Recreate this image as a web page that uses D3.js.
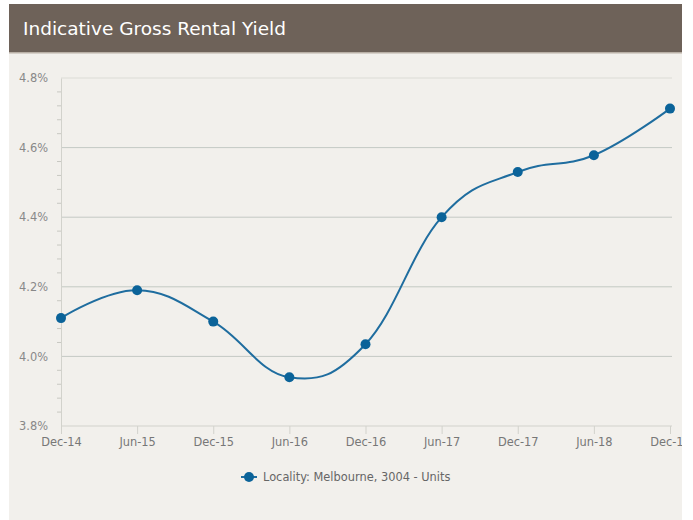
<!DOCTYPE html>
<html>
<head>
<meta charset="utf-8">
<script src="https://cdn.jsdelivr.net/npm/d3@7/dist/d3.min.js"></script>
<style>
html,body{margin:0;padding:0;background:#fff;}
svg{display:block;}
</style>
</head>
<body>
<svg id="chart" width="693" height="520"></svg>
<script>
const categories = ["Dec-14","Jun-15","Dec-15","Jun-16","Dec-16","Jun-17","Dec-17","Jun-18","Dec-18"];
const values = [4.11, 4.19, 4.10, 3.94, 4.035, 4.40, 4.53, 4.578, 4.712];
const yTicks = [3.8, 4.0, 4.2, 4.4, 4.6, 4.8];
const seriesName = "Locality: Melbourne, 3004 - Units";
const titleText = "Indicative Gross Rental Yield";

(function(){
const svg = d3.select("#chart");
const font = "DejaVu Sans, sans-serif";

// card
const cardX = 9, cardY = 4, cardW = 673, cardH = 516;
svg.append("defs").append("clipPath").attr("id","cardclip")
  .append("rect").attr("x",cardX).attr("y",cardY).attr("width",cardW).attr("height",cardH);
const card = svg.append("g").attr("clip-path","url(#cardclip)");
card.append("rect").attr("x",cardX).attr("y",cardY).attr("width",cardW).attr("height",cardH).attr("fill","#f2f0ec");
card.append("rect").attr("x",cardX).attr("y",cardY).attr("width",cardW).attr("height",49).attr("fill","#6e6259");
card.append("rect").attr("x",cardX).attr("y",52).attr("width",cardW).attr("height",1.5).attr("fill","#b9b0a6");
card.append("text").attr("x",23).attr("y",35).attr("fill","#ffffff")
  .style("font-family",font).style("font-size","18.5px").text(titleText);

const mL = 61, mR = 670, mT = 78, mB = 426;
const x = d3.scalePoint().domain(categories).range([mL, mR]);
const y = d3.scaleLinear().domain([3.8, 4.8]).range([mB, mT]);

// gridlines
card.append("g").selectAll("line").data(yTicks.filter(d => d > 3.8)).join("line")
  .attr("x1", mL).attr("x2", mR + 2)
  .attr("y1", d => y(d)).attr("y2", d => y(d))
  .attr("stroke", d => d === 4.8 ? "#dcdcd6" : "#c4c9c4").attr("stroke-width", 1);

// y axis
const yAxis = d3.axisLeft(y).tickValues(yTicks).tickSize(0).tickPadding(13)
  .tickFormat(d => d3.format(".1f")(d) + "%");
const gy = card.append("g").attr("transform", `translate(${mL},0)`).call(yAxis);
gy.select(".domain").attr("stroke","#d2d2cc");
gy.selectAll("text").attr("fill","#888").style("font-family",font).style("font-size","11.4px");
// minor ticks
const minor = d3.range(3.84, 4.8, 0.04).filter(v => Math.abs(v*5 - Math.round(v*5)) > 0.01);
card.append("g").selectAll("line").data(minor).join("line")
  .attr("x1", mL - 4).attr("x2", mL)
  .attr("y1", d => y(d)).attr("y2", d => y(d))
  .attr("stroke", "#c8c8c2");

// x axis
const xAxis = d3.axisBottom(x).tickSize(8).tickPadding(4);
const gx = card.append("g").attr("transform", `translate(0,${mB})`).call(xAxis);
gx.select(".domain").attr("stroke","#d2d2cc").attr("d", `M${mL},0H${mR + 2}`);
gx.selectAll(".tick line").attr("stroke","#d2d2cc");
gx.selectAll("text").attr("fill","#777").style("font-family",font).style("font-size","11.4px");

// line
const line = d3.line().x((d,i) => x(categories[i])).y(d => y(d)).curve(d3.curveCardinal.tension(-0.2));
card.append("path").datum(values).attr("d", line)
  .attr("fill","none").attr("stroke","#1f6d9f").attr("stroke-width",2);
card.append("g").selectAll("circle").data(values).join("circle")
  .attr("cx",(d,i) => x(categories[i])).attr("cy", d => y(d)).attr("r",5)
  .attr("fill","#0b6399");

// legend
const lg = card.append("g");
lg.append("line").attr("x1",241).attr("x2",257).attr("y1",477).attr("y2",477)
  .attr("stroke","#1f6d9f").attr("stroke-width",2);
lg.append("circle").attr("cx",249).attr("cy",477).attr("r",5).attr("fill","#0b6399");
lg.append("text").attr("x",263).attr("y",481).attr("fill","#666")
  .style("font-family",font).style("font-size","11.4px").text(seriesName);
})();
</script>
</body>
</html>
